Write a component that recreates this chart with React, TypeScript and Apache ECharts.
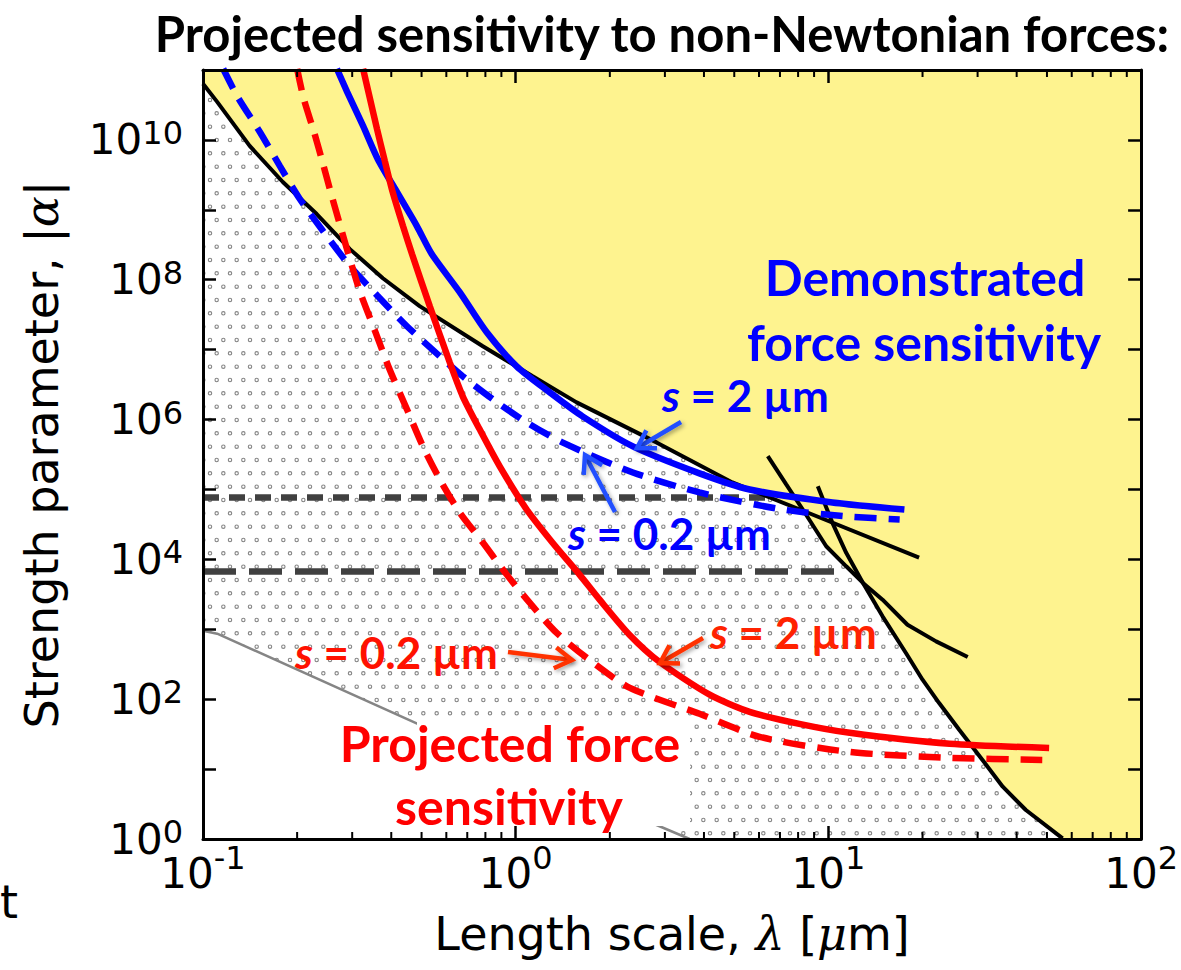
import React, { useEffect, useRef } from 'react';
import * as echarts from 'echarts';

// ---------------- Data ----------------
const TITLE = 'Projected sensitivity to non-Newtonian forces:';
const X_NAME = 'Length scale, {g|λ} [{g|μ}m]';
const Y_NAME = 'Strength parameter, |{g|α}|';

const xMinorTicks = [0.2, 0.3, 0.4, 0.5, 0.6, 0.7, 0.8, 0.9, 2, 3, 4, 5, 6, 7, 8, 9, 20, 30, 40, 50, 60, 70, 80, 90];

// existing experimental limits (black lines)
const boundaryA = [[0.1, 6.34e10], [0.111, 3.5e10], [0.141, 8.2e9], [0.18, 2.5e9], [0.231, 8.7e8], [0.295, 2.74e8], [0.376, 1.05e8], [0.493, 4.19e7], [0.785, 1.12e7], [1.133, 4.16e6], [1.566, 1.76e6], [2.82, 4.71e5], [4.93, 1.26e5], [8.26, 5.0e4], [19.5, 1.06e4]];
const boundaryB = [[6.4, 3.0e5], [7.33, 1.18e5], [8.28, 5.17e4], [9.84, 1.54e4], [11.4, 7.96e3], [12.9, 4.6e3], [14.9, 2.65e3], [17.9, 1.16e3], [22.1, 671], [27.9, 401]];
const boundaryC = [[9.25, 1.11e5], [10.3, 3.33e4], [11.4, 1.24e4], [12.9, 4.6e3], [14.9, 1.53e3], [17.7, 457], [20.0, 190], [22.6, 88], [26.2, 36.5], [31.1, 13.5], [36.1, 5.6], [42.8, 2.6], [56.1, 1.02]];

// grey theoretical line at lower left
const greyLimit = [[0.1, 955], [0.111, 865], [0.486, 44.4], [3.6, 1]];

// horizontal dashed levels
const upperDashed = [[0.1, 7.68e4], [6.47, 7.68e4]];
const lowerDashed = [[0.1, 6.68e3], [11.2, 6.68e3]];

// demonstrated sensitivity (blue)
const blueSolid = [[0.268, 1.04e11], [0.289, 4.87e10], [0.325, 1.59e10], [0.362, 5.35e9], [0.417, 1.8e9], [0.483, 5.86e8], [0.539, 2.33e8], [0.662, 6.64e7], [0.808, 1.77e7], [1.007, 5.78e6], [1.285, 2.45e6], [1.636, 1.11e6], [2.37, 4.13e5], [3.87, 1.7e5], [5.6, 1.0e5], [10.3, 6.52e4], [17.5, 5.17e4]];
const blueDashed = [[0.116, 1.04e11], [0.129, 4.13e10], [0.152, 1.3e10], [0.176, 4.25e9], [0.204, 1.43e9], [0.242, 4.97e8], [0.295, 1.57e8], [0.36, 6.01e7], [0.449, 2.16e7], [0.572, 8.04e6], [0.677, 4.16e6], [0.845, 1.95e6], [1.084, 9.12e5], [1.41, 4.71e5], [2.37, 1.75e5], [3.87, 9.06e4], [7.13, 5.17e4], [11.7, 4.1e4], [16.9, 3.72e4]];

// projected sensitivity (red)
const redSolid = [[0.325, 1.04e11], [0.342, 3.87e10], [0.36, 1.44e10], [0.3815, 5.0e9], [0.404, 1.8e9], [0.436, 5.86e8], [0.466, 2.33e8], [0.531, 4.19e7], [0.615, 6.6e6], [0.677, 2.15e6], [0.767, 7.24e5], [0.889, 2.14e5], [1.084, 5.17e4], [1.31, 1.74e4], [1.6, 6.05e3], [1.855, 2.65e3], [2.31, 837], [2.88, 343], [4.17, 116], [5.6, 66], [8.07, 44.4], [11.7, 33], [24.4, 23], [50.8, 20.1]];
const redDashed = [[0.2, 1.04e11], [0.21, 3.87e10], [0.2265, 1.3e10], [0.242, 4.53e9], [0.258, 1.58e9], [0.276, 5.49e8], [0.295, 1.97e8], [0.318, 6.64e7], [0.355, 1.84e7], [0.395, 5.24e6], [0.449, 1.4e6], [0.505, 4.13e5], [0.572, 1.39e5], [0.662, 4.68e4], [0.785, 1.74e4], [0.936, 6.05e3], [1.108, 2.4e3], [1.35, 893], [1.72, 366], [2.31, 146], [3.87, 61.8], [6.03, 28.9], [11.7, 17.6], [24.4, 14.5], [48.3, 13.5]];

// ---------------- Styling ----------------
const SANS = 'Lato, "Open Sans", sans-serif';
const AXFONT = '"DejaVu Sans", sans-serif';
const MATHFONT = '"DejaVu Serif", serif';
const YELLOW = '#fef38f';

// excluded-region envelope built from the three limit curves
const envelope = [
  ...boundaryA.filter((p) => p[0] < 8.27),
  ...boundaryB.filter((p) => p[0] >= 8.27 && p[0] <= 12.9),
  ...boundaryC.filter((p) => p[0] > 12.9),
];

function makeDotPattern() {
  const w = 40, h = 80;
  const c = document.createElement('canvas');
  c.width = w; c.height = h;
  const ctx = c.getContext('2d');
  if (ctx) {
    ctx.fillStyle = '#ffffff';
    ctx.fillRect(0, 0, w, h);
    ctx.strokeStyle = '#858585';
    ctx.lineWidth = 1.1;
    const s = 40 / 3;
    for (let r = 0; r < 6; r++) {
      for (let k = -1; k < 4; k++) {
        const x = k * s + (r % 2 ? s / 2 : 0) + s / 4;
        const y = r * s + s / 2;
        ctx.beginPath();
        ctx.arc(x, y, 1.7, 0, Math.PI * 2);
        ctx.stroke();
      }
    }
  }
  return c;
}

function arrow(x1: number, y1: number, x2: number, y2: number, color: string) {
  const ang = Math.atan2(y2 - y1, x2 - x1);
  const L = 20, spread = 0.55;
  const p1 = [x2 - L * Math.cos(ang - spread), y2 - L * Math.sin(ang - spread)];
  const p2 = [x2 - L * Math.cos(ang + spread), y2 - L * Math.sin(ang + spread)];
  const shadow = { shadowBlur: 4, shadowColor: 'rgba(0,0,0,0.35)', shadowOffsetX: 2, shadowOffsetY: 2 };
  return {
    type: 'group',
    z: 60,
    children: [
      { type: 'line', z: 60, shape: { x1, y1, x2, y2 }, style: { stroke: color, lineWidth: 4.5, ...shadow } },
      { type: 'polyline', z: 60, shape: { points: [p1, [x2, y2], p2] }, style: { stroke: color, lineWidth: 4.5, fill: null, lineJoin: 'miter', ...shadow } },
    ],
  };
}

function annot(text: string, x: number, y: number, color: string, size: number, align = 'left') {
  return {
    type: 'text',
    z: 60,
    x,
    y,
    style: {
      text,
      fill: color,
      font: `bold ${size}px ${SANS}`,
      textAlign: align,
      textVerticalAlign: 'middle',
      rich: {
        i: { fill: color, fontStyle: 'italic', fontWeight: 'bold', fontSize: size, fontFamily: SANS },
      },
    },
  };
}

function supLabel(value: number) {
  const e = Math.round(Math.log10(value));
  return `{b|10}{s|${e}}`;
}

export default function App() {
  const ref = useRef<HTMLDivElement>(null);

  useEffect(() => {
    if (!ref.current) return;
    const chart = echarts.init(ref.current, null, { renderer: 'svg' });
    const dots = makeDotPattern();

    const axisLineStyle = { color: '#000', width: 3 };
    const tickStyle = { show: true, inside: true, length: 13, lineStyle: { color: '#000', width: 2.5 } };

    const xBase = {
      type: 'log',
      logBase: 10,
      min: 0.1,
      max: 100,
      z: 10,
      splitLine: { show: false },
      axisLine: { show: true, onZero: false, lineStyle: axisLineStyle },
      axisTick: tickStyle,
    };
    const yBase = {
      type: 'log',
      logBase: 10,
      min: 1,
      max: 1e11,
      interval: 1,
      splitNumber: 11,
      z: 10,
      splitLine: { show: false },
      axisLine: { show: true, onZero: false, lineStyle: axisLineStyle },
      axisTick: tickStyle,
    };

    const lineSeries = (name: string, data: number[][], color: string, width: number, type: any = 'solid', smooth: any = false, z = 2) => ({
      name,
      type: 'line',
      data,
      showSymbol: false,
      symbol: 'none',
      smooth,
      silent: true,
      z,
      lineStyle: { color, width, type, cap: 'butt' },
    });

    const option: any = {
      animation: false,
      backgroundColor: '#ffffff',
      title: {
        text: TITLE,
        left: 657,
        top: 3,
        textAlign: 'center',
        textStyle: { fontFamily: SANS, fontWeight: 'bold', fontSize: 49, color: '#000' },
      },
      grid: { left: 203, right: 39, top: 70, bottom: 131, show: true, backgroundColor: YELLOW, borderWidth: 0 },
      xAxis: [
        {
          ...xBase,
          position: 'bottom',
          name: X_NAME,
          nameLocation: 'middle',
          nameGap: 72,
          nameTextStyle: {
            fontFamily: AXFONT, fontSize: 46, color: '#000',
            rich: { g: { fontFamily: MATHFONT, fontStyle: 'italic', fontSize: 46, color: '#000' } },
          },
          axisLabel: {
            show: true,
            margin: 3,
            formatter: (v: number) => supLabel(v),
            rich: {
              b: { fontFamily: AXFONT, fontSize: 42, lineHeight: 46, padding: [16, 0, 0, 0], color: '#000' },
              s: { fontFamily: AXFONT, fontSize: 32, lineHeight: 32, verticalAlign: 'top', color: '#000' },
            },
          },
        },
        { ...xBase, position: 'top', axisLabel: { show: false } },
      ],
      yAxis: [
        {
          ...yBase,
          position: 'left',
          name: Y_NAME,
          nameLocation: 'middle',
          nameGap: 138,
          nameTextStyle: {
            fontFamily: AXFONT, fontSize: 46, color: '#000',
            rich: { g: { fontFamily: MATHFONT, fontStyle: 'italic', fontSize: 46, color: '#000' } },
          },
          axisLabel: {
            show: true,
            margin: 20,
            formatter: (v: number) => {
              const e = Math.round(Math.log10(v));
              return e % 2 === 0 ? supLabel(v) : '';
            },
            rich: {
              b: { fontFamily: AXFONT, fontSize: 42, lineHeight: 46, padding: [16, 0, 16, 0], color: '#000' },
              s: { fontFamily: AXFONT, fontSize: 32, lineHeight: 32, verticalAlign: 'top', color: '#000' },
            },
          },
        },
        { ...yBase, position: 'right', axisLabel: { show: false } },
      ],
      series: [
        {
          name: 'excluded',
          type: 'custom',
          silent: true,
          z: 1,
          data: [[1, 1]],
          renderItem: (_p: any, api: any) => {
            const pts = envelope.map((p) => api.coord(p));
            pts.push(api.coord([envelope[envelope.length - 1][0], 1]));
            pts.push(api.coord([0.1, 1]));
            return {
              type: 'polygon',
              shape: { points: pts },
              style: { fill: { image: dots, repeat: 'repeat', imageWidth: 40, imageHeight: 80 }, stroke: null },
            };
          },
        },
        {
          name: 'belowGrey',
          type: 'custom',
          silent: true,
          z: 1,
          data: [[1, 1]],
          renderItem: (_p: any, api: any) => {
            const pts = greyLimit.map((p) => api.coord(p));
            pts.push(api.coord([0.1, 1]));
            return { type: 'polygon', shape: { points: pts }, style: { fill: '#ffffff', stroke: null } };
          },
        },
        lineSeries('grey', greyLimit, '#858585', 2.5),
        lineSeries('upper level', upperDashed, '#404040', 6.5, [16, 10]),
        lineSeries('lower level', lowerDashed, '#404040', 6.5, [33, 13]),
        lineSeries('limit A', boundaryA, '#000', 4),
        lineSeries('limit B', boundaryB, '#000', 4),
        lineSeries('limit C', boundaryC, '#000', 4),
        lineSeries('demonstrated s=0.2', blueDashed, '#0000ff', 6.5, [22, 12], 0.25, 3),
        lineSeries('demonstrated s=2', blueSolid, '#0000ff', 6.5, 'solid', 0.25, 3),
        lineSeries('projected s=0.2', redDashed, '#ff0000', 6.5, [22, 12], 0.25, 3),
        lineSeries('projected s=2', redSolid, '#ff0000', 6.5, 'solid', 0.25, 3),
        {
          name: 'minor ticks',
          type: 'custom',
          silent: true,
          z: 4,
          data: xMinorTicks.map((v) => [v, 1]),
          renderItem: (_p: any, api: any) => {
            const v = api.value(0);
            const b = api.coord([v, 1]);
            const t = api.coord([v, 1e11]);
            const st = { stroke: '#000', lineWidth: 2 };
            return {
              type: 'group',
              children: [
                { type: 'line', shape: { x1: b[0], y1: b[1], x2: b[0], y2: b[1] - 7 }, style: st },
                { type: 'line', shape: { x1: t[0], y1: t[1], x2: t[0], y2: t[1] + 7 }, style: st },
              ],
            };
          },
        },
      ],
      graphic: [
        { type: 'rect', z: 40, shape: { x: 417, y: 719, width: 273, height: 107 }, style: { fill: '#ffffff' } },
        annot('Demonstrated', 925, 277, '#0000ff', 50, 'center'),
        annot('force sensitivity', 924, 342, '#0000ff', 50, 'center'),
        annot('{i|s} = 2 µm', 662, 395, '#0000ff', 44),
        annot('{i|s} = 0.2 µm', 568, 533, '#0000ff', 44),
        annot('{i|s} = 2 µm', 710, 632, '#ff2200', 44),
        annot('{i|s} = 0.2 µm', 295, 652, '#ff1100', 44),
        annot('Projected force', 510, 743, '#ff0000', 50, 'center'),
        annot('sensitivity', 509, 806, '#ff0000', 50, 'center'),
        arrow(681, 422, 637, 448, '#2050ff'),
        arrow(615, 512, 585, 455, '#2050ff'),
        arrow(508, 652, 572, 660, '#ff3300'),
        arrow(703, 638, 660, 663, '#ff3300'),
        {
          type: 'text', z: 60, x: 0, y: 925,
          style: { text: 't', fill: '#000', font: `46px ${AXFONT}`, textAlign: 'left', textVerticalAlign: 'bottom' },
        },
      ],
    };

    chart.setOption(option);
    return () => chart.dispose();
  }, []);

  return <div ref={ref} style={{ position: 'absolute', left: 0, top: 0, width: 1181, height: 970 }} />;
}
